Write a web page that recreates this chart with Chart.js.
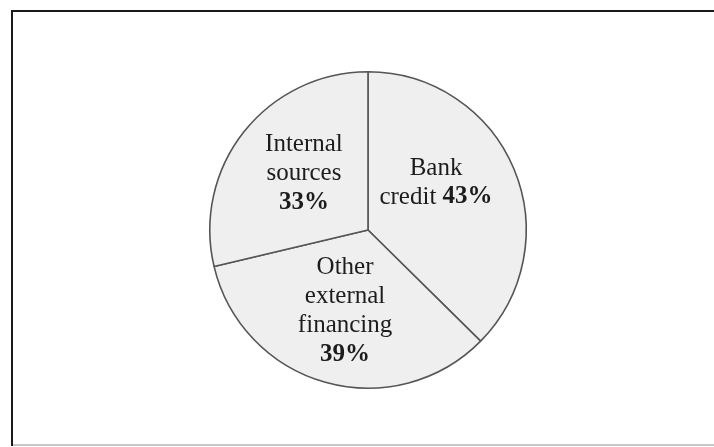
<!DOCTYPE html>
<html>
<head>
<meta charset="utf-8">
<script src="https://cdn.jsdelivr.net/npm/chart.js@4/dist/chart.umd.min.js"></script>
<style>
  html, body { margin: 0; padding: 0; background: #fff; }
  #wrap { position: relative; width: 714px; height: 447px; }
</style>
</head>
<body>
<div id="wrap"><canvas id="pie"></canvas></div>
<script>
// Veriler (clockwise from the top)
const categories = ['Bank credit', 'Other external financing', 'Internal sources'];
const values = [43, 39, 33];
// Label lines; '%' marks where the bold percentage goes
const labelLines = [
    ['Bank', 'credit %'],
    ['Other', 'external', 'financing', '%'],
    ['Internal', 'sources', '%']
];
// label block centre, as a fraction of the radius from the pie centre
const labelOffsets = [[0.43, -0.30], [-0.145, 0.51], [-0.405, -0.36]];

const FONT = '"Liberation Serif", "Times New Roman", serif';
const FONT_SIZE = 25;
const LINE_H = 29;

// Çerçeve
const framePlugin = {
    id: 'frame',
    beforeDraw(chart) {
        const ctx = chart.ctx;
        ctx.save();
        ctx.fillStyle = '#fff';
        ctx.fillRect(0, 0, chart.width, chart.height);
        ctx.strokeStyle = '#c8c8c8';
        ctx.lineWidth = 2;
        ctx.beginPath();
        ctx.moveTo(11, 445);
        ctx.lineTo(chart.width, 445);
        ctx.stroke();
        ctx.strokeStyle = '#1a1a1a';
        ctx.lineWidth = 2;
        ctx.beginPath();
        ctx.moveTo(12, 446);
        ctx.lineTo(12, 11);
        ctx.lineTo(chart.width + 2, 11);
        ctx.stroke();
        ctx.restore();
    }
};

// Dilim etiketleri
const labelPlugin = {
    id: 'sliceLabels',
    afterDatasetsDraw(chart) {
        const ctx = chart.ctx;
        const arcs = chart.getDatasetMeta(0).data;
        ctx.save();
        ctx.fillStyle = '#1c1c1c';
        ctx.textBaseline = 'middle';
        ctx.textAlign = 'left';
        arcs.forEach((arc, i) => {
            const r = arc.outerRadius;
            const cx = arc.x + labelOffsets[i][0] * r;
            const cy = arc.y + labelOffsets[i][1] * r;
            const lines = labelLines[i];
            const top = cy - (lines.length - 1) * LINE_H / 2;
            lines.forEach((line, j) => {
                const runs = [];
                const parts = line.split('%');
                if (parts[0]) runs.push([parts[0], false]);
                if (parts.length > 1) runs.push([values[i] + '%', true]);
                let total = 0;
                runs.forEach(run => {
                    ctx.font = (run[1] ? 'bold ' : '') + FONT_SIZE + 'px ' + FONT;
                    run.push(ctx.measureText(run[0]).width);
                    total += run[2];
                });
                let x = cx - total / 2;
                const y = top + j * LINE_H;
                runs.forEach(run => {
                    ctx.font = (run[1] ? 'bold ' : '') + FONT_SIZE + 'px ' + FONT;
                    ctx.fillText(run[0], x, y);
                    x += run[2];
                });
            });
        });
        ctx.restore();
    }
};

const ctx = document.getElementById('pie').getContext('2d');
new Chart(ctx, {
    type: 'pie',
    data: {
        labels: categories,
        datasets: [{
            data: values,
            backgroundColor: '#efefef',
            borderColor: '#555',
            borderWidth: 1.6
        }]
    },
    options: {
        responsive: true,
        maintainAspectRatio: false,
        animation: false,
        layout: { padding: { top: 71, bottom: 58, left: 209, right: 187 } },
        plugins: {
            legend: { display: false },
            tooltip: { enabled: false }
        }
    },
    plugins: [framePlugin, labelPlugin]
});
</script>
</body>
</html>
